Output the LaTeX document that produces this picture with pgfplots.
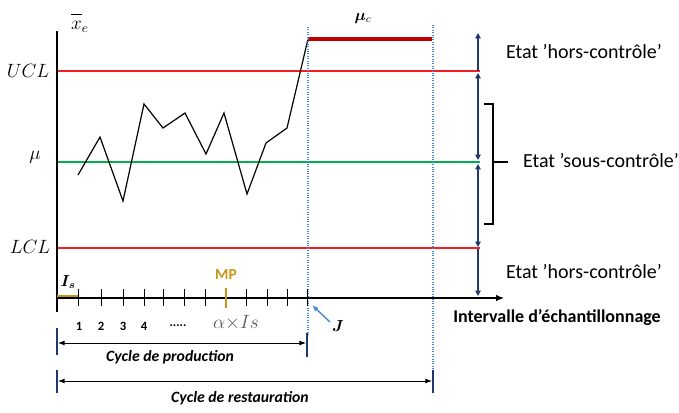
\documentclass[border=0pt]{standalone}
\usepackage{fontspec}
\setmainfont{Carlito}
\usepackage{bm}
\usepackage{pgfplots}
\pgfplotsset{compat=1.18}
\usetikzlibrary{arrows.meta}

\definecolor{limred}{RGB}{245,30,30}
\definecolor{mugreen}{RGB}{0,176,80}
\definecolor{darkred}{RGB}{192,0,0}
\definecolor{navy}{RGB}{32,56,110}
\definecolor{dotblue}{RGB}{70,135,205}
\definecolor{gold}{RGB}{200,150,20}
\definecolor{txtgrey}{RGB}{89,89,89}

\begin{document}
\begin{tikzpicture}
\begin{axis}[
    width=509.25pt, height=309pt, scale only axis,
    xmin=0, xmax=679, ymin=0, ymax=412,
    y dir=reverse,
    hide axis, clip=false,
]
% frame of the picture
\coordinate (bl) at (axis cs:0,412);
\coordinate (tr) at (axis cs:679,0);

% control limits
\addplot[limred, line width=0.8pt] coordinates {(57,71) (480,71)};
\addplot[mugreen, line width=0.8pt] coordinates {(57,162) (480,162)};
\addplot[limred, line width=0.8pt] coordinates {(57,248) (480,248)};

% shifted mean
\addplot[darkred, line width=3pt] coordinates {(308,39) (432,39)};

% sample means
\addplot[black, line width=0.9pt] coordinates {
    (78,175) (100,137) (123,201) (144,104) (163,128) (185,113)
    (206,154) (224,113) (247,194) (266,143) (287,128) (308,39)
};

% dotted verticals
\draw[dotblue, densely dotted, line width=0.8pt] (axis cs:308,27) -- (axis cs:308,335);
\draw[dotblue, densely dotted, line width=0.8pt] (axis cs:433,25) -- (axis cs:433,370);

% axes
\draw[black, line width=0.9pt] (axis cs:57,31) -- (axis cs:57,312);
\draw[black, line width=0.9pt, -{Latex[length=6pt,width=5pt]}] (axis cs:57,298) -- (axis cs:504,298);
\pgfplotsinvokeforeach{78,101,123,144,163,184,205,246,267,287,307}{
    \draw[black, line width=0.6pt] (axis cs:#1,289) -- (axis cs:#1,306);
}
\draw[gold, line width=1.5pt] (axis cs:226,288) -- (axis cs:226,308);
\draw[gold, line width=2pt] (axis cs:57,296) -- (axis cs:78,296);

% cycles
\draw[black, line width=0.7pt, {Latex[length=5pt]}-{Latex[length=5pt]}] (axis cs:58,343) -- (axis cs:306,343);
\draw[black, line width=0.7pt, {Latex[length=5pt]}-{Latex[length=5pt]}] (axis cs:58,381) -- (axis cs:432,381);
\draw[navy, line width=2pt] (axis cs:57,328) -- (axis cs:57,355);
\draw[navy, line width=2pt] (axis cs:307,333) -- (axis cs:307,357);
\draw[navy, line width=2pt] (axis cs:57,370) -- (axis cs:57,393);
\draw[navy, line width=2pt] (axis cs:433,370) -- (axis cs:433,393);

% state arrows
\draw[navy, line width=0.9pt, -{Triangle[length=4pt,width=4pt]}] (axis cs:478,71) -- (axis cs:478,33);
\draw[navy, line width=0.9pt, {Triangle[length=4pt,width=4pt]}-{Triangle[length=4pt,width=4pt]}] (axis cs:478,73) -- (axis cs:478,160);
\draw[navy, line width=0.9pt, {Triangle[length=4pt,width=4pt]}-{Triangle[length=4pt,width=4pt]}] (axis cs:478,164) -- (axis cs:478,247);
\draw[navy, line width=0.9pt, -{Triangle[length=4pt,width=4pt]}] (axis cs:478,249) -- (axis cs:478,296);

% bracket
\draw[black, line width=0.8pt] (axis cs:484,104) -- (axis cs:493,104) -- (axis cs:493,224) -- (axis cs:484,224);
\draw[black, line width=0.8pt] (axis cs:493,162) -- (axis cs:508,162);

% J arrow
\draw[dotblue, line width=1pt, -{Latex[length=5pt]}] (axis cs:330,322) -- (axis cs:312,305);

% labels
\node at (axis cs:28,71) {\Large$UCL$};
\node at (axis cs:35,157) {\Large$\mu$};
\node at (axis cs:30,247) {\Large$LCL$};
\node at (axis cs:80,23) {\Large$\overline{\vphantom{l}x}_e$};
\node at (axis cs:363,18) {\large$\bm{\mu}_{c}$};
\node at (axis cs:68,282) {\large$\bm{I}_{\bm{s}}$};
\node[gold] at (axis cs:226,275) {\fontsize{11.5}{13}\selectfont\bfseries MP};
\node at (axis cs:338,326) {\large$\bm{J}$};
\node[txtgrey] at (axis cs:236,323) {\fontsize{15}{17}\selectfont$\alpha{\times}Is$};
\node at (axis cs:79,326) {\fontsize{9.5}{11}\selectfont\bfseries 1};
\node at (axis cs:101,326) {\fontsize{9.5}{11}\selectfont\bfseries 2};
\node at (axis cs:123,326) {\fontsize{9.5}{11}\selectfont\bfseries 3};
\node at (axis cs:144,326) {\fontsize{9.5}{11}\selectfont\bfseries 4};
\node at (axis cs:178,326) {\fontsize{9.5}{11}\selectfont\bfseries .....};

\node at (axis cs:170,357) {\fontsize{11.8}{13}\selectfont\bfseries\itshape Cycle de production};
\node at (axis cs:240,398) {\fontsize{11.8}{13}\selectfont\bfseries\itshape Cycle de restauration};
\node at (axis cs:557,317) {\fontsize{13.5}{15}\selectfont\bfseries Intervalle d’échantillonnage};
\node at (axis cs:584,52) {\fontsize{15}{17}\selectfont Etat ’hors-contrôle’};
\node at (axis cs:601,161) {\fontsize{15}{17}\selectfont Etat ’sous-contrôle’};
\node at (axis cs:584,272) {\fontsize{15}{17}\selectfont Etat ’hors-contrôle’};
\end{axis}
\pgfresetboundingbox
\path (bl) rectangle (tr);
\end{tikzpicture}
\end{document}
